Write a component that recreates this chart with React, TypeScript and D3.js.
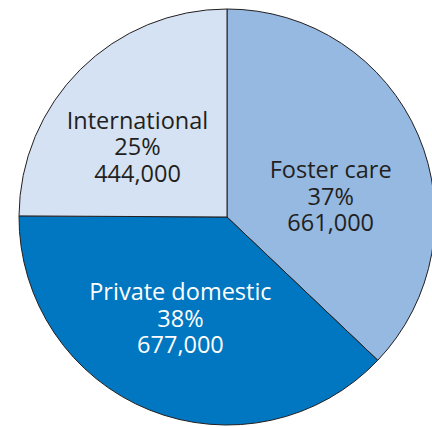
import { useEffect, useRef } from "react";
import * as d3 from "d3";

const categories = ["Foster care", "Private domestic", "International"];
const counts = [661000, 677000, 444000];
const percentLabels = ["37%", "38%", "25%"];
const countLabels = ["661,000", "677,000", "444,000"];

const colors = ["#95b9e0", "#0077c0", "#d5e2f3"];
const textColors = ["#231f20", "#ffffff", "#231f20"];

export default function App() {
    const svgRef = useRef<SVGSVGElement>(null);

    useEffect(() => {
        if (!svgRef.current) return;
        const svg = d3.select(svgRef.current);
        svg.selectAll("*").remove();

        const cx = 227;
        const cy = 217;
        const radius = 208;

        const data = categories.map((c, i) => ({
            label: c,
            value: counts[i],
            pct: percentLabels[i],
            count: countLabels[i],
            color: colors[i],
            text: textColors[i],
        }));

        const pie = d3
            .pie<(typeof data)[number]>()
            .value((d) => d.value)
            .sort(null);
        const arcs = pie(data);

        const arc = d3.arc<d3.PieArcDatum<(typeof data)[number]>>().innerRadius(0).outerRadius(radius);
        const labelArc = d3
            .arc<d3.PieArcDatum<(typeof data)[number]>>()
            .innerRadius(radius * 0.6)
            .outerRadius(radius * 0.6);

        const g = svg.append("g").attr("transform", `translate(${cx},${cy})`);

        g.selectAll("path.slice")
            .data(arcs)
            .enter()
            .append("path")
            .attr("class", "slice")
            .attr("d", arc)
            .attr("fill", (d) => d.data.color)
            .attr("stroke", "#231f20")
            .attr("stroke-width", 1)
            .attr("stroke-linejoin", "round");

        // nudges so the labels sit where the original has them
        const nudge = [
            [-11, 37],
            [0, -6],
            [-1.5, 26.5],
        ];

        const labels = g
            .selectAll("text.lbl")
            .data(arcs)
            .enter()
            .append("text")
            .attr("class", "lbl")
            .attr("text-anchor", "middle")
            .attr("font-family", "'Open Sans', sans-serif")
            .attr("font-size", 23.5)
            .attr("fill", (d) => d.data.text)
            .attr("transform", (d, i) => {
                const [x, y] = labelArc.centroid(d);
                return `translate(${x + nudge[i][0]},${y + nudge[i][1]})`;
            });

        labels.each(function (d) {
            const t = d3.select(this);
            [d.data.label, d.data.pct, d.data.count].forEach((line, k) => {
                t.append("tspan")
                    .attr("x", 0)
                    .attr("y", (k - 1) * 26.5)
                    .text(line);
            });
        });
    }, []);

    return (
        <svg
            ref={svgRef}
            width={432}
            height={427}
            style={{ position: "absolute", left: 0, top: 0, background: "#ffffff" }}
        />
    );
}
